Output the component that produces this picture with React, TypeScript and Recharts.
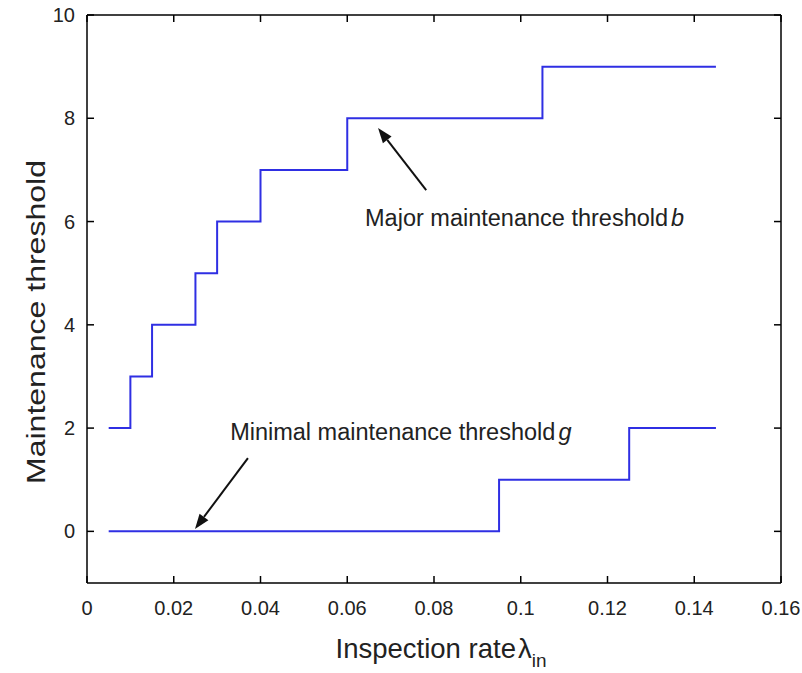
import { LineChart, Line, XAxis, YAxis, ReferenceLine, ReferenceDot } from "recharts"

// major maintenance threshold b (step after each x)
const majorX = [0.005, 0.01, 0.015, 0.025, 0.03, 0.04, 0.06, 0.105, 0.145]
const majorB = [2, 3, 4, 5, 6, 7, 8, 9, 9]

// minimal maintenance threshold g
const minorX = [0.005, 0.095, 0.125, 0.145]
const minorG = [0, 1, 2, 2]

const xTicks = [0, 0.02, 0.04, 0.06, 0.08, 0.1, 0.12, 0.14, 0.16]
const yTicks = [0, 2, 4, 6, 8, 10]

// annotation arrows: [tailX, tailY, tipX, tipY]
const majorArrow = [0.0782, 6.61, 0.0671, 7.81]
const minorArrow = [0.0371, 1.42, 0.0249, 0.047]

// annotation text anchors (left, baseline)
const majorTextAt = [0.0641, 5.91]
const minorTextAt = [0.033, 1.76]

const majorData = majorX.map((x, i) => ({ x, b: majorB[i] }))
const minorData = minorX.map((x, i) => ({ x, g: minorG[i] }))

const FONT = "'Liberation Sans', Arial, Helvetica, sans-serif"
const LINE_COLOR = "#2f2fe3"
const AXIS = { stroke: "#000", strokeWidth: 1.5 }

function Arrow(props: any) {
  const { x1, y1, x2, y2 } = props
  const dx = x2 - x1
  const dy = y2 - y1
  const len = Math.sqrt(dx * dx + dy * dy)
  const ux = dx / len
  const uy = dy / len
  const headLen = 15
  const headW = 5.5
  const bx = x2 - ux * headLen
  const by = y2 - uy * headLen
  const pts = `${x2},${y2} ${bx - uy * headW},${by + ux * headW} ${bx + uy * headW},${by - ux * headW}`
  return (
    <g>
      <line x1={x1} y1={y1} x2={bx} y2={by} stroke="#111" strokeWidth={2} />
      <polygon points={pts} fill="#111" />
    </g>
  )
}

function annotation(main: string, sym: string) {
  return (props: any) => (
    <text x={props.cx} y={props.cy} fontFamily={FONT} fontSize={23.5} fill="#222">
      {main}
      <tspan dx={3} fontStyle="italic">{sym}</tspan>
    </text>
  )
}

function XTitle(props: any) {
  const vb = props.viewBox
  return (
    <text x={vb.x + vb.width / 2 + 7} y={vb.y + 75} textAnchor="middle" fontFamily={FONT} fontSize={27.5} fill="#222">
      Inspection rate
      <tspan dx={2}>λ</tspan>
      <tspan dy={9} fontSize={19}>in</tspan>
    </text>
  )
}

function YTitle(props: any) {
  const vb = props.viewBox
  const cx = vb.x + 36
  const cy = vb.y + vb.height / 2 + 23
  return (
    <text
      x={cx}
      y={cy}
      transform={`rotate(-90, ${cx}, ${cy})`}
      textAnchor="middle"
      dominantBaseline="central"
      fontFamily={FONT}
      fontSize={25}
      textLength={324}
      lengthAdjust="spacingAndGlyphs"
      fill="#222"
    >
      Maintenance threshold
    </text>
  )
}

export default function App() {
  return (
    <div style={{ position: "absolute", left: 0, top: 0, background: "#fff" }}>
      <LineChart width={802} height={673} margin={{ top: 14, right: 20, bottom: 0, left: 0 }}>
        <XAxis
          xAxisId={0}
          dataKey="x"
          type="number"
          domain={[0, 0.16]}
          ticks={xTicks}
          allowDataOverflow
          height={90}
          axisLine={AXIS}
          tickLine={AXIS}
          tickSize={-7}
          tickMargin={25}
          tick={{ fontFamily: FONT, fontSize: 20, fill: "#222" }}
          label={<XTitle />}
        />
        <XAxis
          xAxisId="top"
          orientation="top"
          dataKey="x"
          type="number"
          domain={[0, 0.16]}
          ticks={xTicks}
          allowDataOverflow
          height={1}
          axisLine={AXIS}
          tickLine={AXIS}
          tickSize={-7}
          tick={() => <g />}
        />
        <YAxis
          yAxisId={0}
          type="number"
          domain={[-1, 10]}
          ticks={yTicks}
          allowDataOverflow
          width={87}
          axisLine={AXIS}
          tickLine={AXIS}
          tickSize={-7}
          tickMargin={19}
          tick={{ fontFamily: FONT, fontSize: 20, fill: "#222" }}
          label={<YTitle />}
        />
        <YAxis
          yAxisId="right"
          orientation="right"
          type="number"
          domain={[-1, 10]}
          ticks={yTicks}
          allowDataOverflow
          width={1}
          axisLine={AXIS}
          tickLine={AXIS}
          tickSize={-7}
          tick={() => <g />}
        />
        <Line
          data={majorData}
          dataKey="b"
          type="stepAfter"
          stroke={LINE_COLOR}
          strokeWidth={2}
          dot={false}
          isAnimationActive={false}
        />
        <Line
          data={minorData}
          dataKey="g"
          type="stepAfter"
          stroke={LINE_COLOR}
          strokeWidth={2}
          dot={false}
          isAnimationActive={false}
        />
        <ReferenceLine
          segment={[
            { x: majorArrow[0], y: majorArrow[1] },
            { x: majorArrow[2], y: majorArrow[3] },
          ]}
          shape={Arrow}
        />
        <ReferenceLine
          segment={[
            { x: minorArrow[0], y: minorArrow[1] },
            { x: minorArrow[2], y: minorArrow[3] },
          ]}
          shape={Arrow}
        />
        <ReferenceDot x={majorTextAt[0]} y={majorTextAt[1]} r={0} shape={annotation("Major maintenance threshold", "b")} />
        <ReferenceDot x={minorTextAt[0]} y={minorTextAt[1]} r={0} shape={annotation("Minimal maintenance threshold", "g")} />
      </LineChart>
    </div>
  )
}
